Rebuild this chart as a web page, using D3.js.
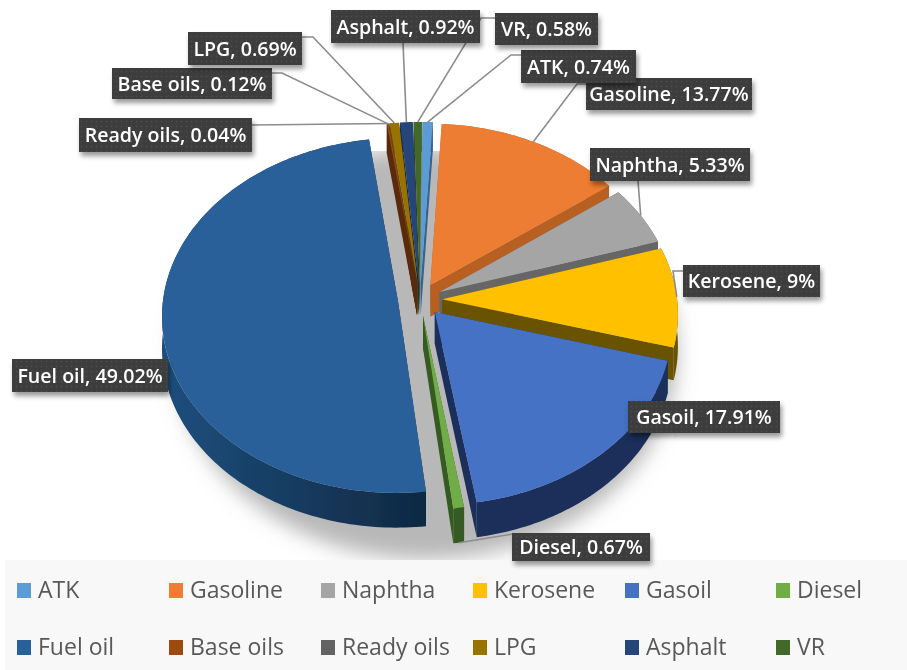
<!DOCTYPE html>
<html>
<head>
<meta charset="UTF-8">
<title>Products share</title>
<style>
  html, body { margin: 0; padding: 0; background: #fff; }
  svg { display: block; }
  text { font-family: "Open Sans", sans-serif; }
</style>
</head>
<body>
<div id="chart"></div>
<script src="https://d3js.org/d3.v7.min.js"></script>
<script>
var categories = ["ATK", "Gasoline", "Naphtha", "Kerosene", "Gasoil", "Diesel", "Fuel oil", "Base oils", "Ready oils", "LPG", "Asphalt", "VR"];
var shares = [0.74, 13.77, 5.33, 9, 17.91, 0.67, 49.02, 0.12, 0.04, 0.69, 0.92, 0.58];
var colors = ["#5b9bd5", "#ed7d31", "#a5a5a5", "#ffc000", "#4472c4", "#70ad47", "#2a6199", "#9e480e", "#636363", "#997300", "#264478", "#43682b"];
var sideColors = ["#37648c", "#b85e22", "#666666", "#6b5300", "#1a2f5a", "#355a20", "url(#fuelSide)", "#5a2a08", "#3a3a3a", "#5a4400", "#16294a", "#2a421b"];

// label boxes: left, top, right, bottom, then the bend of the leader (null = no leader)
var labelBoxes = [
  [521, 50, 636, 83, [[521, 55], [511, 55]]],
  [586, 78, 752, 110, [[586, 84], [577, 84]]],
  [590, 148, 750, 181, [[638, 181]]],
  [683, 265, 820, 297, [[683, 271], [673, 271]]],
  [628, 401, 780, 433, null],
  [512, 533, 650, 561, [[513, 534]]],
  [12, 359, 168, 392, null],
  [112, 68, 272, 99, [[272, 73], [282, 73]]],
  [79, 118, 252, 152, [[252, 125]]],
  [188, 32, 302, 65, [[302, 37], [313, 37]]],
  [331, 10, 480, 43, [[403, 43]]],
  [495, 13, 598, 45, [[495, 18], [481, 18]]]
];
// painted in this order so the ATK box sits on the Gasoline one
var labelOrder = [1, 0, 2, 3, 4, 5, 6, 7, 8, 9, 10, 11];

var legendCols = [17, 169, 321, 473, 625, 776];
var legendRows = [590, 647];

var width = 907, height = 670;
var cx = 420, cy = 299.5, rx = 235, ry = 176;
var explode = 0.094, persp = 0.078, depth = 32;
var firstAngle = 0.5 * Math.PI / 180;

var svg = d3.select("#chart").append("svg").attr("width", width).attr("height", height);
var defs = svg.append("defs");

var soft = defs.append("filter").attr("id", "soft");
soft.append("feGaussianBlur").attr("stdDeviation", 0.5);

var shadowBlur = defs.append("filter").attr("id", "shadowBlur")
  .attr("x", "-20%").attr("y", "-20%").attr("width", "140%").attr("height", "140%");
shadowBlur.append("feGaussianBlur").attr("stdDeviation", 10);

var boxShadow = defs.append("filter").attr("id", "boxShadow")
  .attr("x", "-10%").attr("y", "-30%").attr("width", "120%").attr("height", "170%");
boxShadow.append("feDropShadow").attr("dx", 2).attr("dy", 4).attr("stdDeviation", 2.5)
  .attr("flood-color", "#000").attr("flood-opacity", 0.4);

var dots = defs.append("pattern").attr("id", "dots").attr("patternUnits", "userSpaceOnUse")
  .attr("width", 5).attr("height", 5);
dots.append("rect").attr("width", 5).attr("height", 5).attr("fill", "#3d3d3d");
dots.append("circle").attr("cx", 1.5).attr("cy", 1.5).attr("r", 0.7).attr("fill", "#505050");

var fuelSide = defs.append("linearGradient").attr("id", "fuelSide")
  .attr("gradientUnits", "userSpaceOnUse").attr("x1", 160).attr("x2", 430).attr("y1", 0).attr("y2", 0);
fuelSide.append("stop").attr("offset", 0).attr("stop-color", "#1d4f7e");
fuelSide.append("stop").attr("offset", 1).attr("stop-color", "#0f2842");

defs.append("clipPath").attr("id", "shadowClip").append("rect")
  .attr("x", 0).attr("y", 151).attr("width", width).attr("height", 409);

var root = svg.append("g").attr("filter", "url(#soft)");

var xScale = d3.scaleLinear().domain([-1, 1]).range([cx - rx, cx + rx]);
var yScale = d3.scaleLinear().domain([-1, 1]).range([cy + ry, cy - ry]);

var pie = d3.pie().sort(null).startAngle(firstAngle).endAngle(firstAngle + 2 * Math.PI);
var arcs = pie(shares);
var line = d3.line();

// ground plane (a, radius) around the slice's own exploded apex, to screen
function project(mid, a, r, z) {
  var X = explode * Math.sin(mid) + r * Math.sin(a);
  var Y = explode * Math.cos(mid) + r * Math.cos(a);
  var s = 1 / (1 + persp * Y);
  return [xScale(X * s), yScale(Y * s) + z * s];
}

var slices = arcs.map(function (d, i) {
  var mid = (d.startAngle + d.endAngle) / 2;
  var steps = Math.max(2, Math.ceil((d.endAngle - d.startAngle) / 0.02));
  var angles = d3.range(steps + 1).map(function (k) {
    return d.startAngle + (d.endAngle - d.startAngle) * k / steps;
  });
  function rim(z) {
    return angles.map(function (a) { return project(mid, a, 1, z); });
  }
  return {
    i: i, mid: mid,
    rimTop: rim(0), rimBottom: rim(depth),
    apexTop: project(mid, 0, 0, 0), apexBottom: project(mid, 0, 0, depth)
  };
});

// legend band goes under the labels
root.append("rect")
  .attr("x", 5).attr("y", 560)
  .attr("width", width - 5).attr("height", 110)
  .attr("fill", "#f8f8f8");

// shadow under the whole pie
var shadow = root.append("g").attr("clip-path", "url(#shadowClip)").append("g").attr("filter", "url(#shadowBlur)");
shadow.append("ellipse")
  .attr("cx", cx + 6).attr("cy", cy + 54)
  .attr("rx", rx + 16).attr("ry", ry + 30)
  .attr("fill", "#b8b8b8");

// back slices first
var ordered = slices.slice().sort(function (a, b) {
  return Math.cos(b.mid) - Math.cos(a.mid);
});

ordered.forEach(function (s) {
  var g = root.append("g");
  var side = sideColors[s.i];
  var last = s.rimTop.length - 1;
  // two cut faces, then the outer wall as one strip
  g.append("path")
    .attr("d", line([s.apexTop, s.rimTop[0], s.rimBottom[0], s.apexBottom]) + "Z")
    .attr("fill", side);
  g.append("path")
    .attr("d", line([s.apexTop, s.rimTop[last], s.rimBottom[last], s.apexBottom]) + "Z")
    .attr("fill", side);
  g.append("path")
    .attr("d", line(s.rimTop.concat(s.rimBottom.slice().reverse())) + "Z")
    .attr("fill", side);
  g.append("path")
    .attr("d", line([s.apexTop].concat(s.rimTop)) + "Z")
    .attr("fill", colors[s.i]);
});

// leaders
labelBoxes.forEach(function (b, i) {
  if (!b[4]) return;
  var s = slices[i];
  var onFront = categories[i] === "Diesel";
  var end = project(s.mid, s.mid, 1, onFront ? depth : 0);
  root.append("path")
    .attr("d", line(b[4].concat([end])))
    .attr("fill", "none")
    .attr("stroke", "#8c8c8c")
    .attr("stroke-width", 1.6);
});

// data labels
labelOrder.forEach(function (i) {
  var b = labelBoxes[i];
  root.append("rect")
    .attr("x", b[0]).attr("y", b[1])
    .attr("width", b[2] - b[0]).attr("height", b[3] - b[1])
    .attr("fill", "url(#dots)")
    .attr("filter", "url(#boxShadow)");
  root.append("text")
    .attr("x", (b[0] + b[2]) / 2).attr("y", (b[1] + b[3]) / 2 + 7)
    .attr("text-anchor", "middle")
    .attr("font-size", 19.6)
    .attr("font-weight", 600)
    .attr("fill", "#ffffff")
    .text(categories[i] + ", " + shares[i] + "%");
});

// legend
var legendItems = root.selectAll("g.legend").data(categories).enter().append("g")
  .attr("class", "legend")
  .attr("transform", function (d, i) {
    return "translate(" + legendCols[i % 6] + "," + legendRows[Math.floor(i / 6)] + ")";
  });
legendItems.append("rect")
  .attr("x", 0).attr("y", -7)
  .attr("width", 14).attr("height", 15)
  .attr("fill", function (d, i) { return colors[i]; });
legendItems.append("text")
  .attr("x", 21).attr("y", 8)
  .attr("font-size", 23)
  .attr("fill", "#595959")
  .text(function (d) { return d; });
</script>
</body>
</html>
